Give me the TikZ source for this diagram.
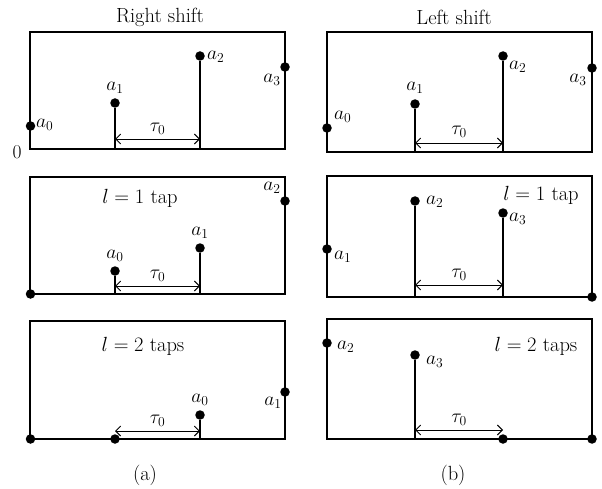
\RequirePackage{fix-cm}
\documentclass[tikz,border=0pt]{standalone}
\usepackage{fontspec}
\usetikzlibrary{arrows.meta}
\begin{document}
\begin{tikzpicture}[x=1pt,y=-1pt,
  box/.style={draw,line width=1.1pt},
  stem/.style={line width=1.1pt},
  dot/.style={circle,fill=black,inner sep=0pt,minimum size=9.5pt},
  lbl/.style={inner sep=1pt,font=\fontsize{19.5}{22}\selectfont},
  ttl/.style={inner sep=1pt,font=\fontsize{20.5}{23}\selectfont},
  tau/.style={line width=0.9pt,{Straight Barb[length=5pt,width=10pt]}-{Straight Barb[length=5pt,width=10pt]}}]
\useasboundingbox (0,0) rectangle (602,489);
% ---------------- top left
\node[ttl] (t1) at (160,17) {Right shift};
\draw[box] (30,32) rectangle (285,149);
\node[lbl] (zero) at (17,152) {0};
\node[dot] (A0) at (30.5,126) {};
\node[lbl,anchor=west] (lA0) at (35,125) {$a_0$};
\coordinate (B1) at (115,149);
\node[dot] (A1) at (115,103) {};
\draw[stem] (B1) -- (A1);
\node[lbl] (lA1) at (115,88) {$a_1$};
\coordinate (B2) at (200,149);
\node[dot] (A2) at (200,56) {};
\draw[stem] (B2) -- (A2);
\node[lbl,anchor=west] (lA2) at (206,57) {$a_2$};
\node[dot] (A3) at (285,67) {};
\node[lbl] (lA3) at (272,80) {$a_3$};
\coordinate (T1a) at (115,139);
\coordinate (T1b) at (200,139);
\draw[tau] (T1a) -- (T1b);
\node[lbl] (tau1) at (157.5,129) {$\tau_0$};
% ---------------- top right
\node[ttl] (t2) at (454,17) {Left shift};
\draw[box] (327,32) rectangle (592,152);
\node[dot] (C0) at (327,128) {};
\node[lbl,anchor=west] (lC0) at (333,117) {$a_0$};
\coordinate (D1) at (415,152);
\node[dot] (C1) at (415,104) {};
\draw[stem] (D1) -- (C1);
\node[lbl] (lC1) at (415,88) {$a_1$};
\coordinate (D2) at (503,152);
\node[dot] (C2) at (503,56) {};
\draw[stem] (D2) -- (C2);
\node[lbl,anchor=west] (lC2) at (508,67) {$a_2$};
\node[dot] (C3) at (592,68) {};
\node[lbl] (lC3) at (578,80) {$a_3$};
\coordinate (T2a) at (415,143);
\coordinate (T2b) at (503,143);
\draw[tau] (T2a) -- (T2b);
\node[lbl] (tau2) at (459,132) {$\tau_0$};
% ---------------- middle left
\draw[box] (30,177) rectangle (285,294);
\node[ttl] (m1) at (140,198) {$l=1$ tap};
\node[dot] (E0) at (30.5,294) {};
\coordinate (F0) at (115,294);
\node[dot] (E1) at (115,271) {};
\draw[stem] (F0) -- (E1);
\node[lbl] (lE1) at (115,256) {$a_0$};
\coordinate (F1) at (200,294);
\node[dot] (E2) at (200,248) {};
\draw[stem] (F1) -- (E2);
\node[lbl] (lE2) at (200,233) {$a_1$};
\node[dot] (E3) at (285,201) {};
\node[lbl] (lE3) at (272,188) {$a_2$};
\coordinate (T3a) at (115,286);
\coordinate (T3b) at (200,286);
\draw[tau] (T3a) -- (T3b);
\node[lbl] (tau3) at (157.5,276) {$\tau_0$};
% ---------------- middle right
\draw[box] (327,176) rectangle (592,297);
\node[ttl] (m2) at (541,195) {$l=1$ tap};
\node[dot] (G0) at (327,249) {};
\node[lbl,anchor=west] (lG0) at (333,257) {$a_1$};
\coordinate (H1) at (415,297);
\node[dot] (G1) at (415,201) {};
\draw[stem] (H1) -- (G1);
\node[lbl,anchor=west] (lG1) at (425,202) {$a_2$};
\coordinate (H2) at (503,297);
\node[dot] (G2) at (503,213) {};
\draw[stem] (H2) -- (G2);
\node[lbl,anchor=west] (lG2) at (508,219) {$a_3$};
\node[dot] (G3) at (592,297) {};
\coordinate (T4a) at (415,285);
\coordinate (T4b) at (503,285);
\draw[tau] (T4a) -- (T4b);
\node[lbl] (tau4) at (459,275) {$\tau_0$};
% ---------------- bottom left
\draw[box] (30,321) rectangle (285,439);
\node[ttl] (b1) at (143,346) {$l=2$ taps};
\node[dot] (P0) at (30.5,439) {};
\node[dot] (P1) at (115,439) {};
\coordinate (Q2) at (200,439);
\node[dot] (P2) at (200,415) {};
\draw[stem] (Q2) -- (P2);
\node[lbl] (lP2) at (200,400) {$a_0$};
\node[dot] (P3) at (285,392) {};
\node[lbl] (lP3) at (273,403) {$a_1$};
\coordinate (T5a) at (115,431);
\coordinate (T5b) at (200,431);
\draw[tau] (T5a) -- (T5b);
\node[lbl] (tau5) at (157.5,421) {$\tau_0$};
\node[ttl] (capa) at (145,475) {(a)};
% ---------------- bottom right
\draw[box] (327,319) rectangle (592,439);
\node[ttl] (b2) at (536,346) {$l=2$ taps};
\node[dot] (R0) at (327,343) {};
\node[lbl,anchor=west] (lR0) at (336,347) {$a_2$};
\coordinate (S1) at (415,439);
\node[dot] (R1) at (415,355) {};
\draw[stem] (S1) -- (R1);
\node[lbl,anchor=west] (lR1) at (425,362) {$a_3$};
\node[dot] (R2) at (503,439) {};
\node[dot] (R3) at (592,439) {};
\coordinate (T6a) at (415,430);
\coordinate (T6b) at (503,430);
\draw[tau] (T6a) -- (T6b);
\node[lbl] (tau6) at (459,420) {$\tau_0$};
\node[ttl] (capb) at (453,475) {(b)};
\end{tikzpicture}
\end{document}
